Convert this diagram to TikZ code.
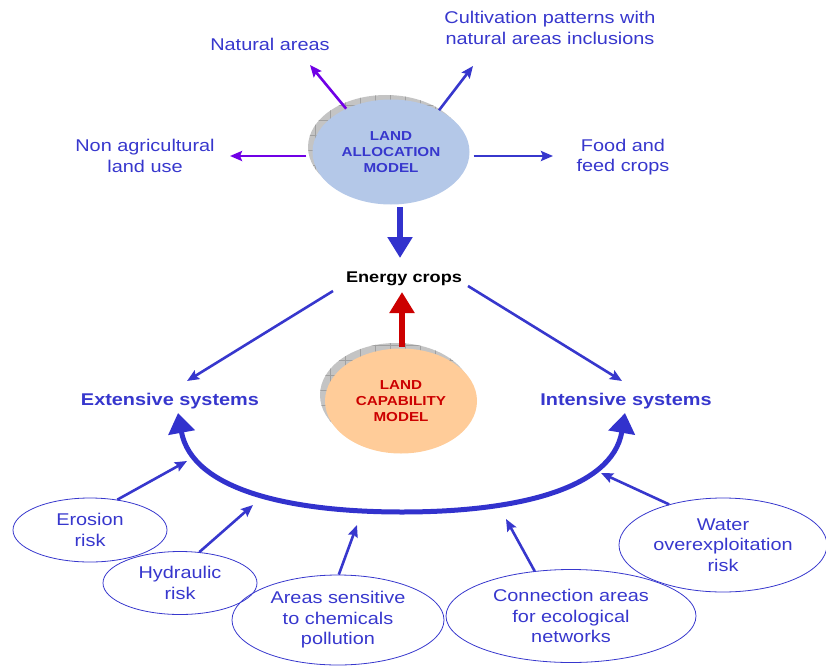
\documentclass[tikz,border=0pt]{standalone}
\usepackage{fontspec}
\setmainfont{Liberation Sans}[FakeStretch=1.17]
\usetikzlibrary{arrows.meta,shapes.geometric}
\definecolor{tblue}{RGB}{55,55,205}
\definecolor{ablue}{RGB}{50,50,205}
\definecolor{violet}{RGB}{112,0,230}
\definecolor{allocfill}{RGB}{180,200,232}
\definecolor{capfill}{RGB}{255,204,153}
\definecolor{capred}{RGB}{204,0,0}
\definecolor{shadowgray}{RGB}{196,196,196}
\definecolor{gridgray}{RGB}{160,160,160}
\tikzset{
  lbl/.style={text=tblue,align=center,font=\fontsize{17}{20.5}\selectfont},
  sys/.style={text=tblue,font=\fontsize{17}{20.5}\selectfont\bfseries},
  risk/.style={ellipse,draw=tblue,line width=0.8pt,inner sep=0pt,align=center,
    text=tblue,font=\fontsize{17}{20.5}\selectfont},
  model/.style={ellipse,inner sep=0pt,align=center,font=\fontsize{13}{16}\selectfont\bfseries},
  link/.style={draw=tblue,line width=2.6pt,line cap=butt,
    -{Stealth[length=12pt,width=10pt,inset=2pt]}},
  bigarrow/.style={line width=6.5pt,line cap=butt,-{Triangle[length=21pt,width=24pt]}}
}
\begin{document}
\begin{tikzpicture}[x=1pt,y=-1pt,line join=round,line cap=round]
  \useasboundingbox (0,0) rectangle (826,666);
  % free ends
  \coordinate (naturalTip) at (310,65);
  \coordinate (cultivTip) at (473,66);
  \coordinate (nonagrTip) at (230,156);
  \coordinate (foodTip) at (553,156);
  \coordinate (downTail) at (400,207);
  \coordinate (downTip) at (400,258);
  \coordinate (upTail) at (402,347);
  \coordinate (upTip) at (402,292);
  \coordinate (energyL) at (333,291);
  \coordinate (energyR) at (468,286);
  \coordinate (extTip) at (187,381);
  \coordinate (intTip) at (622,381);
  \coordinate (loopL) at (178,413);
  \coordinate (loopB) at (402,512);
  \coordinate (loopR) at (625,413);
  \coordinate (erosionTip) at (187,461);
  \coordinate (hydraulicTip) at (253,505);
  \coordinate (chemTip) at (357,525);
  \coordinate (ecoTip) at (506,519);
  \coordinate (waterTip) at (601,473);

  % models with their shadow
  \begin{scope}
    \clip (386,147) ellipse [x radius=78,y radius=52];
    \fill[shadowgray] (300,80) rectangle (480,210);
    \draw[gridgray,line width=0.4pt,step=15pt] (300,80) grid (480,210);
  \end{scope}
  \node[model,fill=allocfill,text=tblue,minimum width=157,minimum height=105] (alloc) at (391,152) {LAND\\ALLOCATION\\MODEL};
  \begin{scope}
    \clip (396,395) ellipse [x radius=76,y radius=52];
    \fill[shadowgray] (310,330) rectangle (490,460);
    \draw[gridgray,line width=0.4pt,step=15pt] (310,330) grid (490,460);
  \end{scope}
  \node[model,fill=capfill,text=capred,minimum width=152,minimum height=105] (capab) at (401,401) {LAND\\CAPABILITY\\MODEL};

  % labels
  \node[lbl] (natural) at (270,44) {Natural areas};
  \node[lbl] (cultiv) at (550,28) {Cultivation patterns with\\natural areas inclusions};
  \node[lbl] (nonagr) at (145,156) {Non agricultural\\land use};
  \node[lbl] (food) at (623,157) {Food and\\feed crops};
  \node[font=\fontsize{15.5}{18}\selectfont\bfseries] (energy) at (404,279) {Energy crops};
  \node[sys] (ext) at (170,401) {Extensive systems};
  \node[sys] (int) at (626,401) {Intensive systems};

  % constraints
  \node[risk,minimum width=154,minimum height=64] (erosion) at (90,530) {Erosion\\risk};
  \node[risk,minimum width=154,minimum height=63] (hydraulic) at (180,583) {Hydraulic\\risk};
  \node[risk,minimum width=212,minimum height=90] (chem) at (338,620) {Areas sensitive\\to chemicals\\pollution};
  \node[risk,minimum width=250,minimum height=93] (eco) at (571,616) {Connection areas\\for ecological\\networks};
  \node[risk,minimum width=208,minimum height=94] (water) at (723,545) {Water\\overexploitation\\risk};

  % arrows
  \draw[link,draw=violet] (alloc.136) -- (naturalTip);
  \draw[link] (alloc.41) -- (cultivTip);
  \draw[link,draw=violet] ([shift={(-6,4)}]alloc.west) -- (nonagrTip);
  \draw[link] ([shift={(4,4)}]alloc.east) -- (foodTip);
  \draw[bigarrow,ablue] (downTail) -- (downTip);
  \draw[bigarrow,capred] (upTail) -- (upTip);
  \draw[link] (energyL) -- (extTip);
  \draw[link] (energyR) -- (intTip);
  \draw[ablue,line width=5pt,line cap=butt,{Triangle[length=20pt,width=26pt]}-{Triangle[length=20pt,width=26pt]}]
    (loopL) .. controls (192,490) and (290,512) .. (loopB) .. controls (514,512) and (612,490) .. (loopR);
  \draw[link] (erosion.48) -- (erosionTip);
  \draw[link] (hydraulic.58) -- (hydraulicTip);
  \draw[link] (chem.89) -- (chemTip);
  \draw[link] (eco.129) -- (ecoTip);
  \draw[link] (water.143) -- (waterTip);
\end{tikzpicture}
\end{document}
